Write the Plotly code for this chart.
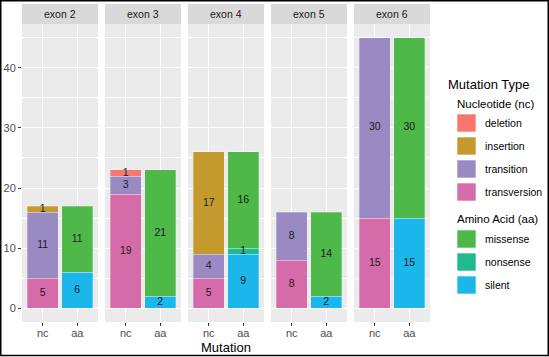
import plotly.graph_objects as go

# ---------------- data ----------------
exons = ["exon 2", "exon 3", "exon 4", "exon 5", "exon 6"]
mut_ticks = ["nc", "aa"]

deletion = [0, 1, 0, 0, 0]
insertion = [1, 0, 17, 0, 0]
transition = [11, 3, 4, 8, 30]
transversion = [5, 19, 5, 8, 15]
missense = [11, 21, 16, 14, 30]
nonsense = [0, 0, 1, 0, 0]
silent = [6, 2, 9, 2, 15]

nc_types = ["deletion", "insertion", "transition", "transversion"]
aa_types = ["missense", "nonsense", "silent"]
values = {"deletion": deletion, "insertion": insertion, "transition": transition,
          "transversion": transversion, "missense": missense, "nonsense": nonsense,
          "silent": silent}
colors = {"deletion": "#F8766D", "insertion": "#C49A2E", "transition": "#9A8AC4",
          "transversion": "#D66BAA", "missense": "#4EB848", "nonsense": "#20BA91",
          "silent": "#1CB7EA"}

# ---------------- layout geometry (pixels) ----------------
W, H = 549, 357
L, R_EDGE = 22, 430
TOP, PANEL_TOP, BOTTOM = 4, 24, 322
PW, GAP = 76, 7
PWIDTH = R_EDGE - L
PHEIGHT = BOTTOM - TOP


def px2x(px):
    return (px - L) / PWIDTH


def px2y(py):
    return (BOTTOM - py) / PHEIGHT


ydom_top = px2y(PANEL_TOP)
FONT = "Liberation Sans, Arial, sans-serif"

fig = go.Figure()
layout = dict(
    width=W, height=H,
    margin=dict(l=L, r=W - R_EDGE, t=TOP, b=H - BOTTOM),
    paper_bgcolor="white", plot_bgcolor="#EBEBEB",
    barmode="stack", showlegend=False,
    font=dict(family=FONT, size=11, color="#4D4D4D"),
)

shapes = []
annotations = []

for i, ex in enumerate(exons):
    n = "" if i == 0 else str(i + 1)
    xa, ya = "x" + n, "y" + n
    x0 = L + i * (PW + GAP)
    x1 = x0 + PW
    layout["xaxis" + n] = dict(
        domain=[px2x(x0), px2x(x1)], anchor=ya, range=[0.4, 2.6],
        tickvals=[1, 2], ticktext=mut_ticks, showgrid=True, gridcolor="white",
        gridwidth=1.1, zeroline=False, ticks="outside", ticklen=3, tickwidth=1,
        tickcolor="#333333", tickfont=dict(size=11, color="#4D4D4D"),
        ticklabelstandoff=-2, fixedrange=True,
    )
    layout["yaxis" + n] = dict(
        domain=[0, ydom_top], anchor=xa, range=[-2.25, 47.25],
        tickvals=[0, 10, 20, 30, 40], showgrid=True, gridcolor="white",
        gridwidth=1.1, zeroline=False,
        minor=dict(dtick=5, tick0=0, showgrid=True, gridcolor="white", gridwidth=0.5),
        ticks="outside" if i == 0 else "", ticklen=3, tickwidth=1,
        tickcolor="#333333", showticklabels=(i == 0),
        tickfont=dict(size=11, color="#4D4D4D"), fixedrange=True,
    )

    # stacked bars: nc (x=1) bottom->top transversion, transition, insertion, deletion
    for group, xpos in ((nc_types, 1), (aa_types, 2)):
        base = 0
        tx, ty, tt = [], [], []
        for t in reversed(group):
            v = values[t][i]
            if v == 0:
                continue
            fig.add_trace(go.Bar(
                x=[xpos], y=[v], width=0.9, xaxis=xa, yaxis=ya, name=t,
                marker=dict(color=colors[t], line=dict(color="rgba(255,255,255,0.45)", width=0.6)),
                hoverinfo="skip",
            ))
            tx.append(xpos)
            ty.append(base + v / 2)
            tt.append(str(v))
            base += v
        fig.add_trace(go.Scatter(
            x=tx, y=ty, text=tt, mode="text", xaxis=xa, yaxis=ya,
            textfont=dict(family=FONT, size=10.5, color="#1A1A1A"), hoverinfo="skip",
        ))

    # strip
    shapes.append(dict(type="rect", xref="paper", yref="paper",
                       x0=px2x(x0), x1=px2x(x1), y0=px2y(PANEL_TOP), y1=px2y(TOP),
                       fillcolor="#D9D9D9", line=dict(width=0), layer="below"))
    annotations.append(dict(xref="paper", yref="paper", x=px2x((x0 + x1) / 2),
                            y=px2y((TOP + PANEL_TOP) / 2), text=ex, showarrow=False,
                            font=dict(size=10.5, color="#1A1A1A"),
                            xanchor="center", yanchor="middle"))

# axis title
annotations.append(dict(xref="paper", yref="paper", x=px2x((L + R_EDGE) / 2),
                        y=px2y(347), text="Mutation", showarrow=False,
                        font=dict(size=13, color="black"),
                        xanchor="center", yanchor="middle"))

# manual legend (ggplot style)
legend_title = "Mutation Type"
group_titles = ["Nucleotide (nc)", "Amino Acid (aa)"]
annotations.append(dict(xref="paper", yref="paper", x=px2x(446), y=px2y(84),
                        text=legend_title, showarrow=False,
                        font=dict(size=13, color="black"),
                        xanchor="left", yanchor="middle"))
rows = [(group_titles[0], 104, nc_types, [123, 146, 169, 192]),
        (group_titles[1], 219, aa_types, [239, 262, 285])]
for gtitle, gy, types, ys in rows:
    annotations.append(dict(xref="paper", yref="paper", x=px2x(455), y=px2y(gy),
                            text=gtitle, showarrow=False,
                            font=dict(size=11.5, color="black"),
                            xanchor="left", yanchor="middle"))
    for t, cy in zip(types, ys):
        shapes.append(dict(type="rect", xref="paper", yref="paper",
                           x0=px2x(457), x1=px2x(476), y0=px2y(cy + 9), y1=px2y(cy - 9),
                           fillcolor=colors[t],
                           line=dict(color="rgba(255,255,255,0.6)", width=1)))
        annotations.append(dict(xref="paper", yref="paper", x=px2x(483), y=px2y(cy),
                                text=t, showarrow=False,
                                font=dict(size=10.5, color="black"),
                                xanchor="left", yanchor="middle"))

# outer frame
shapes.append(dict(type="rect", xref="paper", yref="paper",
                   x0=px2x(0.75), x1=px2x(548.25), y0=px2y(355.5), y1=px2y(0.75),
                   line=dict(color="black", width=1.5), fillcolor="rgba(0,0,0,0)"))

layout["shapes"] = shapes
layout["annotations"] = annotations
fig.update_layout(**layout)
fig.write_html("out.html", config={"displayModeBar": False},
               post_script="document.body.style.margin='0';document.body.style.overflow='hidden';")
